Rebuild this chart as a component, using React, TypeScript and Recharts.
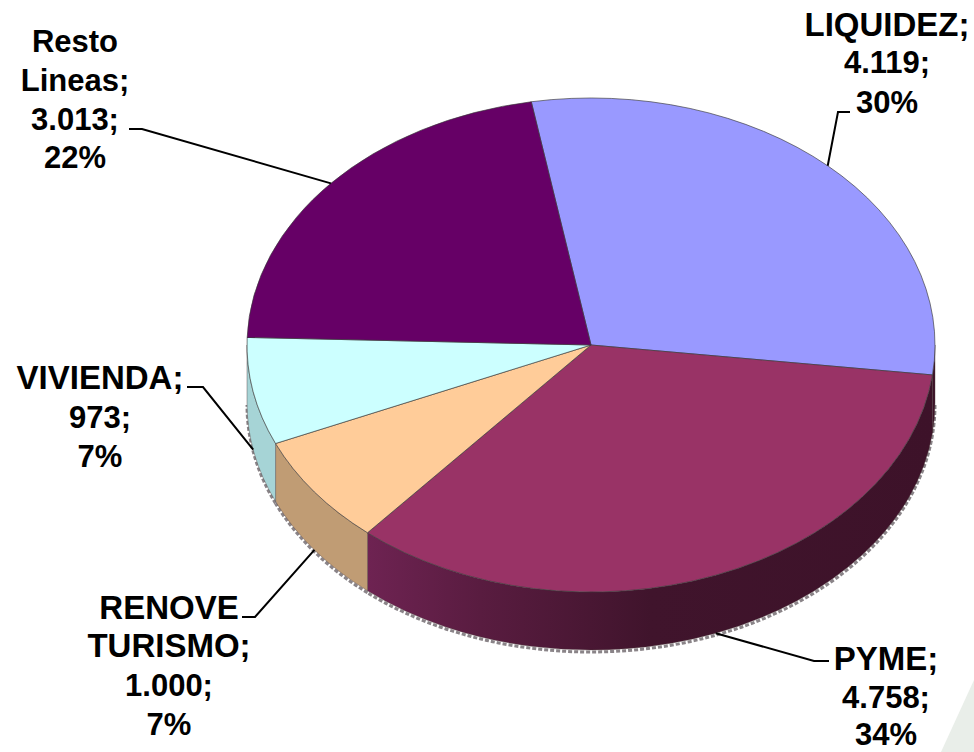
import React from 'react';
import { PieChart, Pie } from 'recharts';

const categories = ['LIQUIDEZ', 'PYME', 'RENOVE\nTURISMO', 'VIVIENDA', 'Resto\nLineas'];
const amounts = [4119, 4758, 1000, 973, 3013];
const faceColors = ['#9999ff', '#993366', '#ffcc99', '#ccffff', '#660066'];
const wallColors = ['#3d1229', 'url(#pymeWall)', '#c09c74', '#a6d4d6', '#330033'];

const W = 974, H = 752, CX = 591, CY = 345, RX = 344, RY = 247, DEPTH = 58;
const START = 100;
const RAD = Math.PI / 180;

const tableData = categories.map((name, i) => ({ name, value: amounts[i], fill: faceColors[i], wall: wallColors[i] }));

type LabelLayout = { x: number; baselines: number[]; from: number[]; elbow: number[] };
const labelLayout: Record<string, LabelLayout> = {
  LIQUIDEZ: { x: 887, baselines: [36, 73, 113], from: [850, 112], elbow: [838, 112] },
  PYME: { x: 886, baselines: [670, 708, 745], from: [829, 661], elbow: [814, 661] },
  'RENOVE\nTURISMO': { x: 169, baselines: [619, 657, 696, 735], from: [242, 617], elbow: [255, 617] },
  VIVIENDA: { x: 100, baselines: [389, 428, 467], from: [187, 387], elbow: [203, 387] },
  'Resto\nLineas': { x: 75, baselines: [52, 91, 130, 168], from: [129, 129], elbow: [142, 129] },
};

const pt = (a: number, dy = 0) => [CX + RX * Math.cos(a * RAD), CY + dy - RY * Math.sin(a * RAD)];

function Face(p: any) {
  const s = pt(p.startAngle), e = pt(p.endAngle);
  const large = Math.abs(p.startAngle - p.endAngle) > 180 ? 1 : 0;
  return (
    <path
      d={`M${CX},${CY}L${s[0]},${s[1]}A${RX},${RY} 0 ${large} 1 ${e[0]},${e[1]}Z`}
      fill={p.fill}
      stroke="#3a3a3a"
      strokeOpacity={0.65}
      strokeWidth={1}
      strokeLinejoin="round"
    />
  );
}

function Wall(p: any) {
  const a1 = Math.min(p.startAngle, 0);
  const a2 = Math.max(p.endAngle, -180);
  if (a1 <= a2) return <g />;
  const t1 = pt(a1), t2 = pt(a2), b1 = pt(a1, DEPTH), b2 = pt(a2, DEPTH);
  const g1 = pt(a1, DEPTH + 2), g2 = pt(a2, DEPTH + 2);
  return (
    <g>
      <path d={`M${g1[0]},${g1[1]}A${RX},${RY} 0 0 1 ${g2[0]},${g2[1]}`} fill="none" stroke="#8a8488" strokeWidth={3} strokeDasharray="4 2" />
      <path
        d={`M${t1[0]},${t1[1]}A${RX},${RY} 0 0 1 ${t2[0]},${t2[1]}L${b2[0]},${b2[1]}A${RX},${RY} 0 0 0 ${b1[0]},${b1[1]}Z`}
        fill={p.wall}
        stroke="#4a3a3a"
        strokeOpacity={0.5}
        strokeWidth={0.8}
      />
    </g>
  );
}

function Label(p: any) {
  const layout = labelLayout[p.name];
  if (!layout) return null;
  const mid = p.midAngle;
  const front = Math.sin(mid * RAD) < 0;
  const anchor = pt(mid, front ? DEPTH : 0);
  const value = String(p.value).replace(/\B(?=(\d{3})+$)/g, '.');
  const nameLines = String(p.name).split('\n');
  const lines = [...nameLines.slice(0, -1), `${nameLines[nameLines.length - 1]};`, `${value};`, `${Math.round(p.percent * 100)}%`];
  return (
    <g>
      <polyline
        points={`${layout.from.join(',')} ${layout.elbow.join(',')} ${anchor.join(',')}`}
        fill="none"
        stroke="#000"
        strokeWidth={2}
      />
      <text textAnchor="middle" fontFamily="Liberation Sans, Arial, sans-serif" fontWeight={700} fontSize={31} fill="#000">
        {lines.map((l, i) => (
          <tspan key={i} x={layout.x} y={layout.baselines[i]} fontSize={/^[A-Z]{3,}/.test(l) ? 33 : 31}>{l}</tspan>
        ))}
      </text>
    </g>
  );
}

export default function App() {
  return (
    <div style={{ position: 'absolute', left: 0, top: 0, width: W, height: H, background: '#fff', overflow: 'hidden' }}>
      <PieChart width={W} height={H} margin={{ top: 0, right: 0, bottom: 0, left: 0 }}>
        <defs>
          <linearGradient id="pymeWall" gradientUnits="userSpaceOnUse" x1={367} y1={0} x2={935} y2={0}>
            <stop offset="0" stopColor="#6e2352" />
            <stop offset="0.2" stopColor="#591c40" />
            <stop offset="0.5" stopColor="#40142c" />
            <stop offset="1" stopColor="#3d1229" />
          </linearGradient>
        </defs>
        <polygon points="941,752 974,680 974,752" fill="#e9eee9" />
        <Pie
          data={tableData}
          dataKey="value"
          nameKey="name"
          cx={CX}
          cy={CY}
          outerRadius={RX}
          startAngle={START}
          endAngle={START - 360}
          isAnimationActive={false}
          shape={Wall}
          label={false}
          labelLine={false}
        />
        <Pie
          data={tableData}
          dataKey="value"
          nameKey="name"
          cx={CX}
          cy={CY}
          outerRadius={RX}
          startAngle={START}
          endAngle={START - 360}
          isAnimationActive={false}
          shape={Face}
          label={Label}
          labelLine={false}
        />
      </PieChart>
    </div>
  );
}
